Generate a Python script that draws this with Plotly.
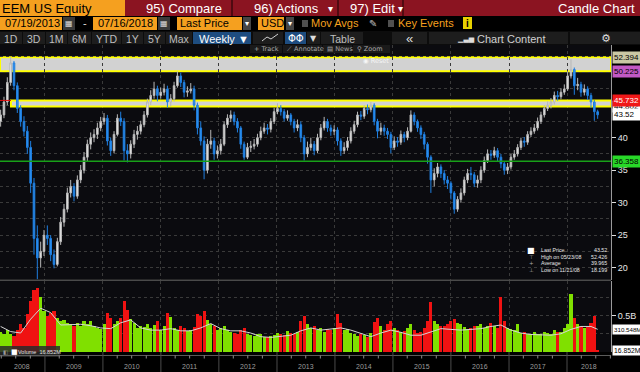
import plotly.graph_objects as go
import pandas as pd

# ---------------- data ----------------
start_date = "2008-03-28"
step_days = 21

open_ = [42.5,43.5,45.5,48.5,51.5,48.0,44.5,42.5,41.0,38.5,
         33.0,24.5,21.5,22.5,25.0,24.5,22.0,20.5,24.0,27.0,
         29.0,31.5,32.5,31.0,33.5,35.0,37.0,39.0,40.0,40.5,
         41.5,42.5,43.0,39.5,38.0,40.5,43.0,42.5,38.0,37.5,
         39.0,40.5,41.0,42.0,43.5,45.5,46.5,47.5,46.5,47.0,
         47.5,45.5,46.0,48.0,49.5,48.5,47.0,47.2,47.5,45.0,
         41.5,39.5,35.0,39.0,39.5,37.5,38.0,39.0,42.0,43.0,
         43.5,42.5,41.5,39.0,37.0,38.5,38.7,39.0,40.0,41.0,
         41.5,41.3,42.5,44.0,44.5,44.0,43.0,43.5,42.5,41.5,
         42.0,40.0,37.5,38.5,39.0,38.0,40.0,41.5,42.5,41.5,
         41.0,41.2,39.5,38.0,38.5,39.5,41.0,42.0,43.5,43.3,
         44.5,44.3,45.0,42.5,41.0,41.5,41.0,40.5,38.5,39.5,
         39.3,40.5,40.0,41.0,43.5,42.5,41.5,40.5,39.0,37.0,
         33.5,34.5,35.5,34.5,33.5,33.0,31.5,29.0,30.5,31.5,
         33.5,34.5,34.3,33.0,33.5,35.0,36.5,37.5,37.3,38.0,
         37.0,36.0,35.0,35.5,37.0,37.5,38.5,39.5,39.3,40.5,
         41.0,41.5,42.5,43.5,44.5,45.0,45.5,46.5,46.3,47.0,
         47.5,49.5,50.5,48.0,48.2,47.0,47.5,46.5,45.5,44.0]

close = [43.5,45.5,48.5,51.5,48.0,44.5,42.5,41.0,38.5,33.0,
         24.5,21.5,22.5,25.0,24.5,22.0,20.5,24.0,27.0,29.0,
         31.5,32.5,31.0,33.5,35.0,37.0,39.0,40.0,40.5,41.5,
         42.5,43.0,39.5,38.0,40.5,43.0,42.5,38.0,37.5,39.0,
         40.5,41.0,42.0,43.5,45.5,46.5,47.5,46.5,47.0,47.5,
         45.5,46.0,48.0,49.5,48.5,47.0,47.2,47.5,45.0,41.5,
         39.5,35.0,39.0,39.5,37.5,38.0,39.0,42.0,43.0,43.5,
         42.5,41.5,39.0,37.0,38.5,38.7,39.0,40.0,41.0,41.5,
         41.3,42.5,44.0,44.5,44.0,43.0,43.5,42.5,41.5,42.0,
         40.0,37.5,38.5,39.0,38.0,40.0,41.5,42.5,41.5,41.0,
         41.2,39.5,38.0,38.5,39.5,41.0,42.0,43.5,43.3,44.5,
         44.3,45.0,42.5,41.0,41.5,41.0,40.5,38.5,39.5,39.3,
         40.5,40.0,41.0,43.5,42.5,41.5,40.5,39.0,37.0,33.5,
         34.5,35.5,34.5,33.5,33.0,31.5,29.0,30.5,31.5,33.5,
         34.5,34.3,33.0,33.5,35.0,36.5,37.5,37.3,38.0,37.0,
         36.0,35.0,35.5,37.0,37.5,38.5,39.5,39.3,40.5,41.0,
         41.5,42.5,43.5,44.5,45.0,45.5,46.5,46.3,47.0,47.5,
         49.5,50.5,48.0,48.2,47.0,47.5,46.5,45.5,44.0,43.52]

high = [44.3,46.3,49.3,52.43,51.8,48.5,45.0,43.3,41.8,39.5,
        33.8,26.5,24.0,25.8,26.5,25.0,22.8,24.6,27.8,29.8,
        32.3,33.5,33.0,34.2,35.8,37.8,39.7,40.8,41.3,42.3,
        43.2,43.8,43.5,40.0,41.0,43.6,44.0,43.0,39.0,39.6,
        41.2,41.8,42.6,44.1,46.0,47.3,48.6,48.0,47.7,48.3,
        48.0,46.7,48.6,50.2,50.0,48.9,47.9,48.4,48.0,45.4,
        42.5,40.2,39.8,41.2,40.0,38.8,39.8,42.5,43.6,44.2,
        44.0,43.0,41.8,39.4,39.2,39.5,39.8,40.6,41.7,42.3,
        42.1,43.0,44.6,45.3,45.0,44.4,44.2,43.8,42.9,42.8,
        42.5,40.4,39.4,40.0,39.5,40.6,42.1,43.2,42.9,42.0,
        41.9,41.6,39.9,39.3,40.1,41.6,42.6,44.0,44.1,45.0,
        45.1,45.5,45.3,42.9,42.3,42.0,41.5,40.9,40.2,40.1,
        41.1,40.9,41.6,44.2,43.9,42.8,41.9,40.9,39.3,37.3,
        35.3,36.1,35.9,35.0,34.1,33.3,31.8,31.0,32.2,34.0,
        35.2,35.5,34.7,34.2,35.6,37.1,38.2,38.1,38.6,38.4,
        37.5,36.4,36.1,37.5,38.1,39.0,40.0,40.1,41.0,41.6,
        42.1,43.1,44.0,45.0,45.6,46.1,47.1,47.2,47.6,48.2,
        50.2,52.1,50.8,49.2,48.6,48.2,47.9,46.9,45.8,44.3]

low = [41.7,43.0,45.0,48.0,47.3,43.8,41.7,40.2,37.5,31.5,
       22.0,18.2,20.0,21.8,23.5,21.0,19.9,20.2,23.5,26.3,
       28.5,30.8,30.2,30.6,33.0,34.5,36.4,38.2,39.3,39.8,
       41.0,42.0,38.8,37.2,37.6,40.2,41.8,36.5,36.2,36.8,
       38.4,39.7,40.5,41.6,43.1,45.0,46.0,45.6,46.0,46.5,
       44.6,44.8,45.6,47.7,47.8,46.2,46.3,46.8,44.2,40.5,
       38.8,33.6,34.5,38.3,36.6,36.8,37.4,38.7,41.5,42.4,
       41.9,40.8,38.3,36.6,36.7,37.8,38.2,38.6,39.6,40.6,
       40.5,40.8,42.1,43.6,43.4,42.5,42.6,41.9,40.8,41.0,
       39.3,36.5,37.0,38.0,37.3,37.6,39.6,41.1,40.9,40.3,
       40.4,38.8,37.2,37.5,38.0,39.1,40.6,41.6,42.7,42.9,
       43.6,43.9,41.9,39.9,40.4,40.3,39.8,37.6,38.1,38.6,
       38.9,39.3,39.6,40.8,41.9,40.9,39.8,38.2,36.0,31.5,
       32.5,33.9,33.8,32.8,32.1,30.5,28.3,28.6,30.0,31.1,
       33.0,33.5,32.4,32.3,33.0,34.6,36.1,36.6,36.9,36.4,
       35.3,34.3,34.4,35.1,36.6,37.1,38.1,38.6,38.9,40.1,
       40.6,41.1,42.1,43.1,44.1,44.5,45.1,45.7,45.9,46.6,
       47.2,49.1,46.6,47.3,46.3,46.5,45.8,44.6,42.6,42.9]

volume_m = [280,240,300,250,220,300,390,330,520,700,
            850,880,760,560,500,540,560,470,420,440,
            400,380,350,400,360,420,390,430,360,330,
            310,380,540,470,390,420,470,700,580,450,
            400,330,360,340,390,330,370,420,300,350,
            530,480,330,300,350,330,290,300,340,520,
            500,560,440,380,350,300,330,360,300,280,
            260,240,300,330,250,230,220,250,240,210,
            200,220,230,260,240,230,290,260,250,270,
            420,500,380,330,350,300,330,280,320,300,
            330,520,400,300,320,260,240,220,250,230,
            210,260,410,470,350,300,380,430,330,300,
            270,290,330,390,300,260,280,330,420,680,
            430,380,350,360,380,420,450,400,380,340,
            320,330,360,350,380,330,350,400,350,330,
            750,420,330,320,300,380,260,280,240,250,
            270,240,250,280,260,250,300,270,280,330,
            380,800,470,380,350,330,340,400,500,16.852]

# volume moving average, read every 3rd period (+ last value)
vol_ma_step = 3
vol_ma = [350,280,260,450,600,540,370,370,380,360,
          330,320,400,440,330,300,300,320,290,290,
          330,390,320,290,290,260,210,200,210,230,
          290,330,300,320,330,300,260,210,260,300,
          270,230,230,270,320,310,300,310,320,350,
          370,300,260,240,230,230,250,310,350,350,310.548]

upper_box = [50.225, 52.394]
lower_box = [44.802, 45.732]
support_level = 36.358
last_price = 43.52
stat_labels = ["Last Price", "High on 05/23/08", "Average", "Low on 11/21/08"]
stat_values = ["43.52", "52.426", "39.965", "18.199"]
price_ticks = [20, 25, 30, 35, 40]
price_minor = [22.5, 27.5, 32.5, 37.5, 42.5, 45, 47.5, 50, 52.5]
years = list(range(2008, 2019))

# ---------------- geometry helpers ----------------
FONT = "Liberation Sans"
W_PLOT, TOP, BOT = 611, 45, 352
H_PLOT = BOT - TOP


def fx(px):
    return px / W_PLOT


def fy(py):
    return (BOT - py) / H_PLOT


X0, X1 = pd.Timestamp("2008-03-24"), pd.Timestamp("2018-10-05")
dates = pd.date_range(start_date, periods=len(close), freq=f"{step_days}D")
ma_dates = list(dates[::vol_ma_step]) + [dates[-1]]

fig = go.Figure()
fig.add_trace(go.Candlestick(
    x=dates, open=open_, high=high, low=low, close=close,
    increasing=dict(line=dict(color="#b8b8b8", width=1), fillcolor="#eeeeee"),
    decreasing=dict(line=dict(color="#1f7fe0", width=1), fillcolor="#2f95f5"),
    whiskerwidth=0, showlegend=False, hoverinfo="skip", xaxis="x", yaxis="y"))

vol_colors = ["#80e000" if c >= o else "#f01212" for o, c in zip(open_, close)]
fig.add_trace(go.Bar(x=dates, y=volume_m, marker=dict(color=vol_colors, line=dict(width=0)),
                     width=step_days * 0.92 * 86400000, xaxis="x", yaxis="y2",
                     showlegend=False, hoverinfo="skip"))
fig.add_trace(go.Scatter(x=ma_dates, y=vol_ma, mode="lines", line=dict(color="#d6d6d6", width=1),
                         xaxis="x", yaxis="y2", showlegend=False, hoverinfo="skip"))

shapes = []
anns = []


def rect(x0, y0, x1, y1, fill, line=None, lw=0, layer="above", opacity=1):
    shapes.append(dict(type="rect", xref="paper", yref="paper", x0=fx(x0), x1=fx(x1),
                       y0=fy(y1), y1=fy(y0), fillcolor=fill, opacity=opacity,
                       line=dict(color=line or fill, width=lw), layer=layer))


def hline(x0, x1, y, color, w=1, dash="solid"):
    shapes.append(dict(type="line", xref="paper", yref="paper", x0=fx(x0), x1=fx(x1),
                       y0=fy(y), y1=fy(y), line=dict(color=color, width=w, dash=dash)))


def vline(x, y0, y1, color, w=1):
    shapes.append(dict(type="line", xref="paper", yref="paper", x0=fx(x), x1=fx(x),
                       y0=fy(y0), y1=fy(y1), line=dict(color=color, width=w)))


def txt(x, y, s, size=11, color="#ffffff", anchor="left", bg=None, family=FONT):
    a = dict(xref="paper", yref="paper", x=fx(x), y=fy(y), text=s, showarrow=False,
             xanchor=anchor, yanchor="middle", font=dict(size=size, color=color, family=family),
             borderpad=0)
    if bg:
        a["bgcolor"] = bg
    anns.append(a)


ORANGE = "#f5a01f"
# ---- row 1: title bar ----
rect(0, 0, 125, 16, ORANGE)
rect(125, 0, 640, 16, "#8b1421")
for xs in (232, 338, 403):
    vline(xs, 0, 16, "#3d070d", 1.5)
txt(1, 8.5, "EEM US Equity", 13, "#000000")
txt(145, 8.5, "95) Compare", 13)
txt(253, 8.5, "96) Actions", 13)
txt(327, 8.5, "▾", 10)
txt(349, 8.5, "97) Edit", 13)
txt(397, 8.5, "▾", 10)
txt(636, 8.5, "Candle Chart", 13, anchor="right")

# ---- row 2: dates / fields ----
rect(0, 17, 62, 30, ORANGE)
txt(4, 23.5, "07/19/2013", 11, "#000000")
rect(63, 17, 75, 30, "#3a3a3a")
txt(69, 23.5, "▦", 8, "#dddddd", anchor="center", family="DejaVu Sans")
txt(85, 23, "-", 11, "#dddddd", anchor="center")
rect(93, 17, 157, 30, ORANGE)
txt(97, 23.5, "07/16/2018", 11, "#000000")
rect(158, 17, 170, 30, "#3a3a3a")
txt(164, 23.5, "▦", 8, "#dddddd", anchor="center", family="DejaVu Sans")
rect(177, 17, 242, 30, ORANGE)
txt(179, 23.5, "Last Price", 11, "#000000")
rect(243, 17, 251, 30, "#454545")
txt(247, 23.5, "▾", 8, "#ffffff", anchor="center")
rect(258, 17, 284, 30, ORANGE)
txt(260, 23.5, "USD", 11, "#000000")
rect(286, 17, 294, 30, "#454545")
txt(290, 23.5, "▾", 8, "#ffffff", anchor="center")
rect(302, 20, 308, 27, "#505050")
txt(310, 23.5, "Mov Avgs", 11, ORANGE)
txt(373, 23.5, "✎", 10, "#bbbbbb", anchor="center", family="DejaVu Sans")
rect(388, 20, 394, 27, "#505050")
txt(397, 23.5, "Key Events", 11, ORANGE)
rect(463, 17, 472, 29, "#e8d200")
txt(467.5, 23.5, "<b>i</b>", 10, "#000000", anchor="center")

# ---- row 3: toolbar ----
rect(0, 31, 640, 45, "#0c0c0c")
buttons = [(0, 22, "1D"), (23, 45, "3D"), (46, 67, "1M"), (68, 91, "6M"), (92, 121, "YTD"),
           (122, 143, "1Y"), (144, 165, "5Y"), (166, 192, "Max"), (321, 363, "Table")]
for b0, b1, lab in buttons:
    rect(b0, 32, b1, 44, "#1d1d1d")
    txt((b0 + b1) / 2, 38.5, lab, 10.5, "#bfbfbf", anchor="center")
rect(193, 32, 251, 44, "#1e4d80")
txt(198, 38.5, "Weekly ▼", 11, "#ffffff")
rect(253, 32, 283, 44, "#1d1d1d")
shapes.append(dict(type="path", xref="paper", yref="paper",
                   path="M {} {} L {} {} L {} {} L {} {}".format(fx(262), fy(41), fx(267), fy(37), fx(271), fy(39), fx(278), fy(34)),
                   line=dict(color="#d0d0d0", width=1)))
rect(285, 32, 306, 44, "#1e4d80")
txt(295.5, 38.5, "ΦΦ", 10, "#ffffff", anchor="center", family="DejaVu Sans")
rect(307, 32, 320, 44, "#1d1d1d")
txt(313.5, 38.5, "▼", 8, "#dddddd", anchor="center", family="DejaVu Sans")
rect(392, 32, 427, 44, "#1d1d1d")
txt(409.5, 38, "«", 13, "#dddddd", anchor="center")
rect(429, 32, 568, 44, "#1d1d1d")
txt(466, 38.5, "▁▃▅", 7, "#dddddd", anchor="center", family="DejaVu Sans")
txt(476, 38.5, "Chart Content", 11, "#d0d0d0")
rect(570, 32, 640, 44, "#1d1d1d")
txt(606, 38.5, "⚙", 11, "#dddddd", anchor="center", family="DejaVu Sans")

# ---- row 4 (inside chart): small tool buttons ----
for b0, b1, lab in [(250, 282, "+ Track"), (283, 322, "⟋ Annotate"), (323, 352, "▤ News"), (353, 390, "⚲ Zoom")]:
    rect(b0, 45, b1, 53, "#1a1a1a")
    txt(b0 + 3, 49, lab, 6.5, "#a8a8a8", family="DejaVu Sans")

# ---- chart overlays ----
shapes.append(dict(type="rect", xref="paper", yref="y", x0=0, x1=1, y0=upper_box[0], y1=upper_box[1],
                   fillcolor="#d2d2d2", line=dict(color="#ffff00", width=2), layer="between"))
shapes.append(dict(type="rect", xref="x", yref="y", x0="2008-06-01", x1=X1, y0=lower_box[0], y1=lower_box[1],
                   fillcolor="#d2d2d2", line=dict(color="#ffff00", width=2), layer="between"))
shapes.append(dict(type="line", xref="paper", yref="y", x0=0, x1=1, y0=support_level, y1=support_level,
                   line=dict(color="#18a018", width=1.5)))
shapes.append(dict(type="line", xref="paper", yref="y", x0=0, x1=fx(11), y0=lower_box[1], y1=lower_box[1],
                   line=dict(color="#e01010", width=1)))
txt(362, 61, "◉ Reset", 6.5, "#f6f6f6", family="DejaVu Sans")

# panel separator
hline(0, 611, 280.2, "#4a4a4a", 1.5)

# ---- right-side value labels ----
def vlabel(val, text, bg, fg="#000000", yref="y", size=8, x=612):
    anns.append(dict(xref="paper", yref=yref, x=fx(x), y=val, text=text, showarrow=False,
                     xanchor="left", yanchor="middle", bgcolor=bg, borderpad=1,
                     font=dict(size=size, color=fg, family=FONT)))


vlabel(upper_box[1], "52.394 ", "#c9c7a4")
vlabel(upper_box[0], "50.225 ", "#c259c4")
vlabel(lower_box[0], "44.802 ", "#ffffff")
vlabel(last_price, "43.52   ", "#ffffff")
vlabel(lower_box[1], "45.732 ", "#f01818", "#ffffff")
vlabel(support_level, "36.358 ", "#28d828")
vlabel(310.548, "310.548M", "#ffffff", yref="y2", size=6.2, x=611.5)
vlabel(16.852, "16.852M", "#ffffff", yref="y2", size=6.8)

# ---- stats legend ----
icons = ["■", "⊤", "+", "⊥"]
for i, (lab, val) in enumerate(zip(stat_labels, stat_values)):
    yy = 250 + i * 6.6
    txt(531, yy, icons[i], 5.5 if i else 8, "#ffffff" if i == 0 else "#aaaaaa", anchor="center", family="DejaVu Sans")
    txt(540, yy, lab, 5.3, "#e8e8e8")
    txt(608, yy, val, 5.3, "#e8e8e8", anchor="right")

# ---- volume legend ----
rect(0, 346, 60, 357, "#2a2a2a", opacity=0.85)
txt(2, 351.5, "◧", 5.5, "#999999", family="DejaVu Sans")
txt(10, 351.5, "■", 7, "#ffffff", family="DejaVu Sans")
txt(17, 351.5, "Volume  16.852M", 5.5, "#e0e0e0")

# ---- bottom time axis ----
hline(0, 611, 355.5, "#5a5a5a", 1)
for y in years[1:]:
    shapes.append(dict(type="line", xref="x", yref="paper", x0=f"{y}-01-01", x1=f"{y}-01-01",
                       y0=fy(352), y1=fy(372), line=dict(color="#4a4a4a", width=1)))
for y in years:
    for m in ("04", "07", "10"):
        d = pd.Timestamp(f"{y}-{m}-01")
        if X0 < d < X1:
            shapes.append(dict(type="line", xref="x", yref="paper", x0=d, x1=d,
                               y0=fy(355.5), y1=fy(358.5), line=dict(color="#8a8a8a", width=1)))
for y in years:
    a = max(pd.Timestamp(f"{y}-01-01"), X0)
    b = min(pd.Timestamp(f"{y + 1}-01-01"), X1)
    mid = a + (b - a) / 2
    anns.append(dict(xref="x", yref="paper", x=mid, y=fy(366.5), text=str(y), showarrow=False,
                     xanchor="center", yanchor="middle",
                     font=dict(size=7, color="#9c9c9c", family=FONT)))

GRID = "#3a3a3a"
fig.update_layout(
    width=640, height=372,
    margin=dict(l=0, r=29, t=TOP, b=372 - BOT, pad=0),
    paper_bgcolor="#000000", plot_bgcolor="#0b0b0f",
    showlegend=False, bargap=0,
    xaxis=dict(type="date", range=[X0, X1], rangeslider=dict(visible=False),
               showticklabels=False, ticks="",
               tickvals=[f"{y}-01-01" for y in years[1:]],
               showgrid=True, gridcolor=GRID, griddash="dot", gridwidth=1,
               zeroline=False, showline=False, anchor="y2", fixedrange=True),
    yaxis=dict(domain=[fy(279.5), 1], range=[18.18, 54.26], side="right", anchor="x",
               tickvals=price_ticks, ticks="outside", ticklen=4, tickcolor="#dddddd",
               tickfont=dict(size=9, color="#e6e6e6", family=FONT),
               showgrid=True, gridcolor=GRID, griddash="dot",
               minor=dict(tickvals=price_minor, showgrid=True, gridcolor=GRID, griddash="dot", ticks=""),
               showline=True, linecolor="#9a9a9a", linewidth=1, zeroline=False),
    yaxis2=dict(domain=[0, fy(281)], range=[0, 973], side="right", anchor="x",
                tickvals=[500], ticktext=["0.5B"], ticks="outside", ticklen=4, tickcolor="#dddddd",
                tickfont=dict(size=9, color="#e6e6e6", family=FONT),
                showgrid=True, gridcolor=GRID, griddash="dot",
                minor=dict(tickvals=[250, 750], showgrid=True, gridcolor=GRID, griddash="dot", ticks=""),
                showline=True, linecolor="#9a9a9a", linewidth=1, zeroline=False),
    shapes=shapes, annotations=anns,
)

fig.write_html("out.html", config={"displayModeBar": False},
               post_script="document.body.style.margin='0px';document.body.style.overflow='hidden';")
